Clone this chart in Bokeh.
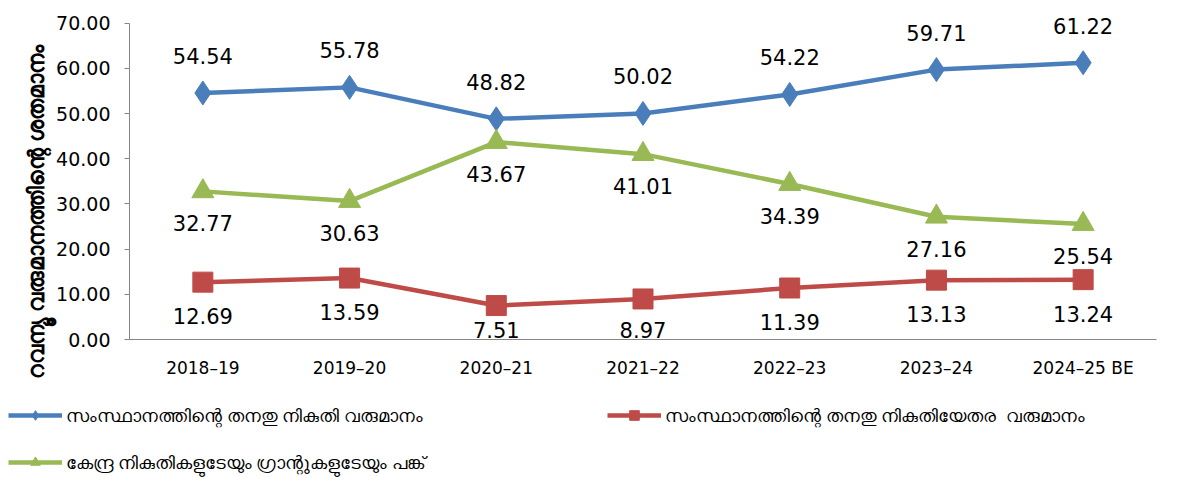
from bokeh.plotting import figure
from bokeh.layouts import column
from bokeh.models import (ColumnDataSource, Range1d, FactorRange, Legend, LegendItem,
                          FixedTicker, NumeralTickFormatter, Title)
from bokeh.embed import file_html
from bokeh.resources import INLINE
from bokeh.core.properties import value

# ---- data ----
years = ["2018–19", "2019–20", "2020–21", "2021–22", "2022–23", "2023–24", "2024–25 BE"]
own_tax = [54.54, 55.78, 48.82, 50.02, 54.22, 59.71, 61.22]
own_nontax = [12.69, 13.59, 7.51, 8.97, 11.39, 13.13, 13.24]
central_share = [32.77, 30.63, 43.67, 41.01, 34.39, 27.16, 25.54]
y_ticks = [0, 10, 20, 30, 40, 50, 60, 70]

name_own_tax = "സംസ്ഥാനത്തിന്റെ തനതു നികുതി വരുമാനം"
name_own_nontax = "സംസ്ഥാനത്തിന്റെ തനതു നികുതിയേതര  വരുമാനം"
name_central = "കേന്ദ്ര നികുതികളുടേയും ഗ്രാന്റുകളുടേയും പങ്ക്"
y_title = "റവന്യൂ വരുമാനത്തിന്റെ ശതമാനം"

BLUE = "#4A7EBB"
RED = "#BE4B48"
GREEN = "#98B954"
NUM_FONT = "DejaVu Sans"
ML_FONT = "Noto Sans"

p = figure(width=1177, height=390, x_range=FactorRange(factors=years),
           y_range=Range1d(0, 75), output_backend="svg", toolbar_location=None,
           min_border_left=129, min_border_right=21, min_border_top=0, min_border_bottom=51)
p.frame_align = False
p.outline_line_color = None
p.xgrid.grid_line_color = None
p.ygrid.grid_line_color = None

# axes
p.yaxis.ticker = FixedTicker(ticks=y_ticks)
p.yaxis.bounds = (0, 70)
p.yaxis.formatter = NumeralTickFormatter(format="0.00")
p.yaxis.minor_tick_line_color = None
p.yaxis.major_tick_in = 0
p.yaxis.major_tick_out = 5
p.yaxis.major_label_standoff = 14
p.yaxis.axis_line_color = "#868686"
p.yaxis.major_tick_line_color = "#868686"
p.yaxis.major_label_text_font = NUM_FONT
p.yaxis.major_label_text_font_size = "19px"
p.yaxis.major_label_text_color = "black"

p.xaxis.axis_line_color = "#868686"
p.xaxis.major_tick_line_color = None
p.xaxis.minor_tick_line_color = None
p.xaxis.major_label_standoff = 12
p.xaxis.major_label_text_font = NUM_FONT
p.xaxis.major_label_text_font_size = "17px"
p.xaxis.major_label_text_color = "black"

# vertical y title, starting a little below the axis bottom like the reference
p.add_layout(Title(text=y_title, align="left", offset=-39, standoff=8,
                   text_font=ML_FONT, text_font_size="22px", text_font_style="bold",
                   text_color="black"), "left")

# legend strip (its own frame so the legend is not clipped)
q = figure(width=1177, height=87, x_range=FactorRange(factors=years),
           y_range=Range1d(-100, -99), output_backend="svg", toolbar_location=None,
           x_axis_type=None, y_axis_type=None,
           min_border_left=0, min_border_right=0, min_border_top=0, min_border_bottom=0)
q.frame_align = False
q.outline_line_color = None
q.xgrid.grid_line_color = None
q.ygrid.grid_line_color = None


def series(vals, color, marker, size, label_shift, floor=None):
    ly = []
    for v in vals:
        y = v + label_shift
        if floor is not None:
            y = max(y, floor)
        ly.append(y)
    src = ColumnDataSource(dict(x=years, y=vals, ly=ly, t=["%.2f" % v for v in vals]))
    p.line("x", "y", source=src, line_color=color, line_width=4.5)
    p.scatter("x", "y", source=src, marker=marker, size=size,
              fill_color=color, line_color=color)
    p.text("x", "ly", text="t", source=src, text_align="center", text_baseline="middle",
           text_font=value(NUM_FONT), text_font_size="21px", text_color="black")
    lr = q.line("x", "y", source=src, line_color=color, line_width=4.5)
    sr = q.scatter("x", "y", source=src, marker=marker, size=size,
                   fill_color=color, line_color=color)
    return lr, sr


b = series(own_tax, BLUE, "diamond", 24, 8.2)
r = series(own_nontax, RED, "square", 20, -7.5, floor=2.0)
g = series(central_share, GREEN, "triangle", 22, -7.1)


def make_legend(name, rends, loc):
    lg = Legend(items=[LegendItem(label=name, renderers=list(rends))], location=loc,
                padding=0, margin=0, border_line_color=None, background_fill_alpha=0,
                glyph_width=54, glyph_height=24, label_standoff=4, label_height=24,
                label_text_font=ML_FONT, label_text_font_size="18px",
                label_text_color="black")
    q.add_layout(lg, "center")


make_legend(name_own_tax, b, (8, 50))
make_legend(name_own_nontax, r, (607, 50))
make_legend(name_central, g, (8, 3))

open("out.html", "w").write(file_html(column(p, q, spacing=0), INLINE))
